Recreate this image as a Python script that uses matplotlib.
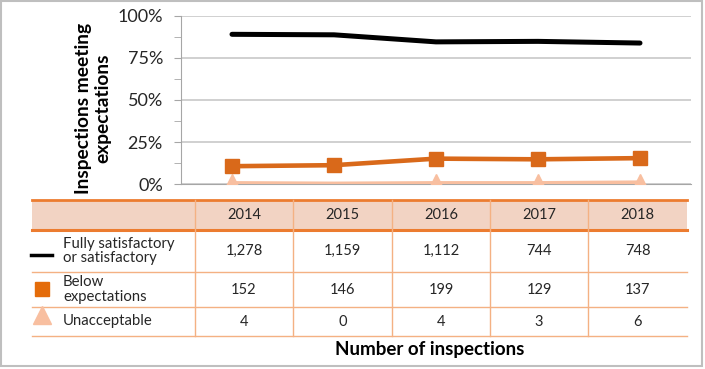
"""Inspections meeting expectations, 2014-2018, with data table."""

import matplotlib.pyplot as plt
from matplotlib.lines import Line2D
from matplotlib.patches import Rectangle

plt.rcParams["font.family"] = ["Lato", "DejaVu Sans"]

YEARS = ["2014", "2015", "2016", "2017", "2018"]
SERIES = ["Fully satisfactory\nor satisfactory", "Below\nexpectations", "Unacceptable"]
COUNTS = [
    ["1,278", "1,159", "1,112", "744", "748"],
    ["152", "146", "199", "129", "137"],
    ["4", "0", "4", "3", "6"],
]
# share of inspections
pct_full = [0.891, 0.888, 0.846, 0.849, 0.839]
pct_below = [0.106, 0.112, 0.151, 0.147, 0.154]
pct_unacc = [0.003, 0.000, 0.003, 0.003, 0.007]

BLACK = "#000000"
ORANGE = "#D9691A"
PEACH = "#F8BFA0"
HEADER = "#F2D3C3"
LINE_DARK = "#EC7C30"
LINE_LIGHT = "#F4B183"
TXT = "#262626"

W, H = 705, 369
fig = plt.figure(figsize=(W / 100, H / 100), dpi=100)

# overlay in pixel coordinates for the frame and the table
ov = fig.add_axes([0, 0, 1, 1])
ov.set_xlim(0, W)
ov.set_ylim(H, 0)
ov.axis("off")

ax = fig.add_axes([181 / W, 1 - 184 / H, 510 / W, 168 / H])
x = range(len(YEARS))
# no marker for the year with zero unacceptable inspections
ax.plot(x, pct_unacc, color=PEACH, lw=3.5, marker="^", ms=13, mec=PEACH,
        markevery=[0, 2, 3, 4], solid_capstyle="round", zorder=3)
ax.plot(x, pct_below, color=ORANGE, lw=3.3, marker="s", ms=10, mec=ORANGE, zorder=4)
ax.plot(x, pct_full, color=BLACK, lw=3.6, solid_capstyle="round", zorder=5)
ax.set_xlim(-0.5, len(YEARS) - 0.5)
ax.set_ylim(0, 1)
ax.set_yticks([0, 0.25, 0.5, 0.75, 1.0])
ax.set_yticklabels(["0%", "25%", "50%", "75%", "100%"], fontsize=13, color=TXT)
ax.set_yticks([0.125, 0.375, 0.625, 0.875], minor=True)
ax.tick_params(axis="y", which="both", length=5, color="#A6A6A6", pad=8)
ax.set_xticks([])
ax.grid(axis="y", which="major", color="#C8C8C8", lw=1.2)
for s in ["top", "right"]:
    ax.spines[s].set_visible(False)
ax.spines["left"].set_color("#A6A6A6")
ax.spines["bottom"].set_color("#A6A6A6")
ax.set_facecolor("none")
ax.set_ylabel("Inspections meeting\nexpectations", fontsize=13.8, fontweight="bold",
              color=BLACK, linespacing=1.15)
ax.yaxis.set_label_coords(-0.137, 0.45)

# outer frame
ov.add_patch(Rectangle((1, 1), W - 4, H - 4, fill=False, ec="#BFBFBF", lw=1.5))

# data table
cols = [195, 293, 392, 490, 588, 687]
left = 32
rows = [200, 230, 272, 307, 336]
ov.add_patch(Rectangle((left, rows[0]), cols[-1] - left, rows[1] - rows[0],
                       fc=HEADER, ec="none"))
ov.add_line(Line2D([left, cols[-1]], [rows[0], rows[0]], color=LINE_DARK, lw=2))
ov.add_line(Line2D([left, cols[-1]], [rows[1], rows[1]], color=LINE_DARK, lw=2.2))
for r in rows[2:]:
    ov.add_line(Line2D([left, cols[-1]], [r, r], color=LINE_LIGHT, lw=1))
for c in cols[:-1]:
    ov.add_line(Line2D([c, c], [rows[0], rows[-1]], color=LINE_LIGHT, lw=1))

for i, yr in enumerate(YEARS):
    cx = (cols[i] + cols[i + 1]) / 2
    ov.text(cx, (rows[0] + rows[1]) / 2, yr, ha="center", va="center",
            fontsize=10.5, color=TXT)
    for j in range(len(SERIES)):
        cy = (rows[j + 1] + rows[j + 2]) / 2
        ov.text(cx, cy, COUNTS[j][i], ha="center", va="center", fontsize=10.5, color=TXT)

for j, name in enumerate(SERIES):
    cy = (rows[j + 1] + rows[j + 2]) / 2
    ov.text(63, cy, name, ha="left", va="center", fontsize=10.7, color=TXT,
            linespacing=1.0)

# legend keys
ov.add_line(Line2D([31, 52], [255, 255], color=BLACK, lw=2.5))
ov.add_line(Line2D([41.5], [289], marker="s", ms=10, color="#E46C0A", ls="none"))
ov.add_line(Line2D([41.5], [315], marker="^", ms=13, color=PEACH, ls="none"))

ov.text(430, 349, "Number of inspections", ha="center", va="center",
        fontsize=13.5, fontweight="bold", color=BLACK)

fig.savefig("out.png", dpi=100)
